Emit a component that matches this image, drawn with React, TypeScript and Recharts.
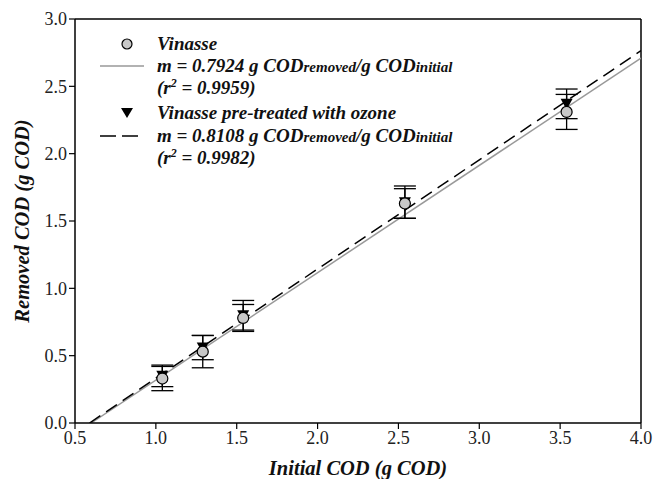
import React from "react";
import {
  ComposedChart,
  Scatter,
  Line,
  XAxis,
  YAxis,
  ErrorBar,
  ReferenceLine,
  Legend,
} from "recharts";

// Initial COD (g COD) at each load
const initialCod = [1.04, 1.29, 1.54, 2.54, 3.54];

// Removed COD (g COD), mean and standard deviation
const vinasseRemoved = [0.33, 0.53, 0.78, 1.63, 2.31];
const vinasseSd = [0.09, 0.12, 0.1, 0.11, 0.13];
const ozoneRemoved = [0.35, 0.56, 0.8, 1.64, 2.37];
const ozoneSd = [0.08, 0.09, 0.11, 0.12, 0.11];

// fitted lines, end points
const vinasseFitX = [0.6, 4.0];
const vinasseFitY = [0, 2.71];
const ozoneFitX = [0.59, 4.0];
const ozoneFitY = [0, 2.765];

const xTicks = [0.5, 1.0, 1.5, 2.0, 2.5, 3.0, 3.5, 4.0];
const yTicks = [0, 0.5, 1.0, 1.5, 2.0, 2.5, 3.0];

const vinasseData = initialCod.map((x, i) => ({ x, y: vinasseRemoved[i], err: vinasseSd[i] }));
const ozoneData = initialCod.map((x, i) => ({ x, y: ozoneRemoved[i], err: ozoneSd[i] }));
const vinasseFit = vinasseFitX.map((x, i) => ({ x, fit: vinasseFitY[i] }));
const ozoneFit = ozoneFitX.map((x, i) => ({ x, fit: ozoneFitY[i] }));

const SERIF = "Liberation Serif, serif";

const CircleDot = (props: any) => (
  <circle cx={props.cx} cy={props.cy} r={5.5} fill="#c8c8c8" stroke="#000" strokeWidth={1.2} />
);

const TriangleDot = (props: any) => {
  const { cx, cy } = props;
  return <path d={`M${cx - 6},${cy - 5} L${cx + 6},${cy - 5} L${cx},${cy + 6} Z`} fill="#000" />;
};

const legendText: React.CSSProperties = {
  position: "absolute",
  left: 157,
  fontFamily: SERIF,
  fontWeight: 700,
  fontStyle: "italic",
  fontSize: 19,
  lineHeight: "20px",
  whiteSpace: "nowrap",
  color: "#111",
};
const sub: React.CSSProperties = { fontSize: 15 };

const renderLegend = () => (
  <div style={{ position: "relative", width: 654, height: 180 }}>
    <svg style={{ position: "absolute", left: 0, top: 0 }} width={160} height={180}>
      <circle cx={127} cy={44} r={5} fill="#c8c8c8" stroke="#000" strokeWidth={1.2} />
      <line x1={100} y1={66} x2={144} y2={66} stroke="#999" strokeWidth={1.5} />
      <path d="M121,108 L133,108 L127,118 Z" fill="#000" />
      <line x1={100} y1={136} x2={144} y2={136} stroke="#000" strokeWidth={1.5} strokeDasharray="16 6" />
    </svg>
    <div style={{ ...legendText, top: 34 }}>Vinasse</div>
    <div style={{ ...legendText, top: 56 }}>
      m = 0.7924 g COD<span style={sub}>removed</span>/g COD<span style={sub}>initial</span>
    </div>
    <div style={{ ...legendText, top: 78 }}>
      (r<sup style={{ fontSize: 12, lineHeight: 0 }}>2</sup> = 0.9959)
    </div>
    <div style={{ ...legendText, top: 103 }}>Vinasse pre-treated with ozone</div>
    <div style={{ ...legendText, top: 126 }}>
      m = 0.8108 g COD<span style={sub}>removed</span>/g COD<span style={sub}>initial</span>
    </div>
    <div style={{ ...legendText, top: 148 }}>
      (r<sup style={{ fontSize: 12, lineHeight: 0 }}>2</sup> = 0.9982)
    </div>
  </div>
);

const tickStyle = { fontFamily: SERIF, fontSize: 18, fill: "#222" };
const axisTitle = { fontFamily: SERIF, fontSize: 20.5, fontWeight: 700, fontStyle: "italic", fill: "#111" };

export default function App() {
  return (
    <div style={{ position: "absolute", left: 0, top: 0, width: 654, height: 479, background: "#fff", fontFamily: SERIF }}>
      <ComposedChart width={654} height={479} margin={{ top: 19, right: 13, bottom: 0, left: 0 }} style={{ fontFamily: SERIF }}>
        <XAxis
          dataKey="x"
          type="number"
          domain={[0.5, 4]}
          ticks={xTicks}
          tickFormatter={(v: number) => v.toFixed(1)}
          tick={tickStyle}
          tickSize={6}
          height={56}
          axisLine={{ stroke: "#000", strokeWidth: 1.5 }}
          tickLine={{ stroke: "#000", strokeWidth: 1.2 }}
          allowDataOverflow
          label={{ value: "Initial COD (g COD)", position: "insideBottom", offset: 4, style: axisTitle }}
        />
        <YAxis
          type="number"
          domain={[0, 3]}
          ticks={yTicks}
          tickFormatter={(v: number) => v.toFixed(1)}
          tick={tickStyle}
          tickSize={6}
          width={75}
          axisLine={{ stroke: "#000", strokeWidth: 1.5 }}
          tickLine={{ stroke: "#000", strokeWidth: 1.2 }}
          allowDataOverflow
          label={{
            value: "Removed COD (g COD)",
            angle: -90,
            position: "insideLeft",
            offset: 22,
            style: { ...axisTitle, textAnchor: "middle" },
          }}
        />
        <ReferenceLine y={3} stroke="#000" strokeWidth={1.5} />
        <ReferenceLine x={4} stroke="#000" strokeWidth={1.5} />

        <Line data={vinasseFit} dataKey="fit" type="linear" stroke="#999" strokeWidth={1.5} dot={false} activeDot={false} isAnimationActive={false} legendType="none" />
        <Line data={ozoneFit} dataKey="fit" type="linear" stroke="#000" strokeWidth={1.5} strokeDasharray="13 7" dot={false} activeDot={false} isAnimationActive={false} legendType="none" />

        <Scatter data={ozoneData} dataKey="y" shape={<TriangleDot />} isAnimationActive={false}>
          <ErrorBar dataKey="err" direction="y" width={11} stroke="#000" strokeWidth={1.3} />
        </Scatter>
        <Scatter data={vinasseData} dataKey="y" shape={<CircleDot />} isAnimationActive={false}>
          <ErrorBar dataKey="err" direction="y" width={11} stroke="#000" strokeWidth={1.3} />
        </Scatter>

        <Legend
          layout="horizontal"
          verticalAlign="middle"
          align="center"
          content={renderLegend}
          wrapperStyle={{ top: 0, left: 0, width: 654, height: 180 }}
        />
      </ComposedChart>
    </div>
  );
}
